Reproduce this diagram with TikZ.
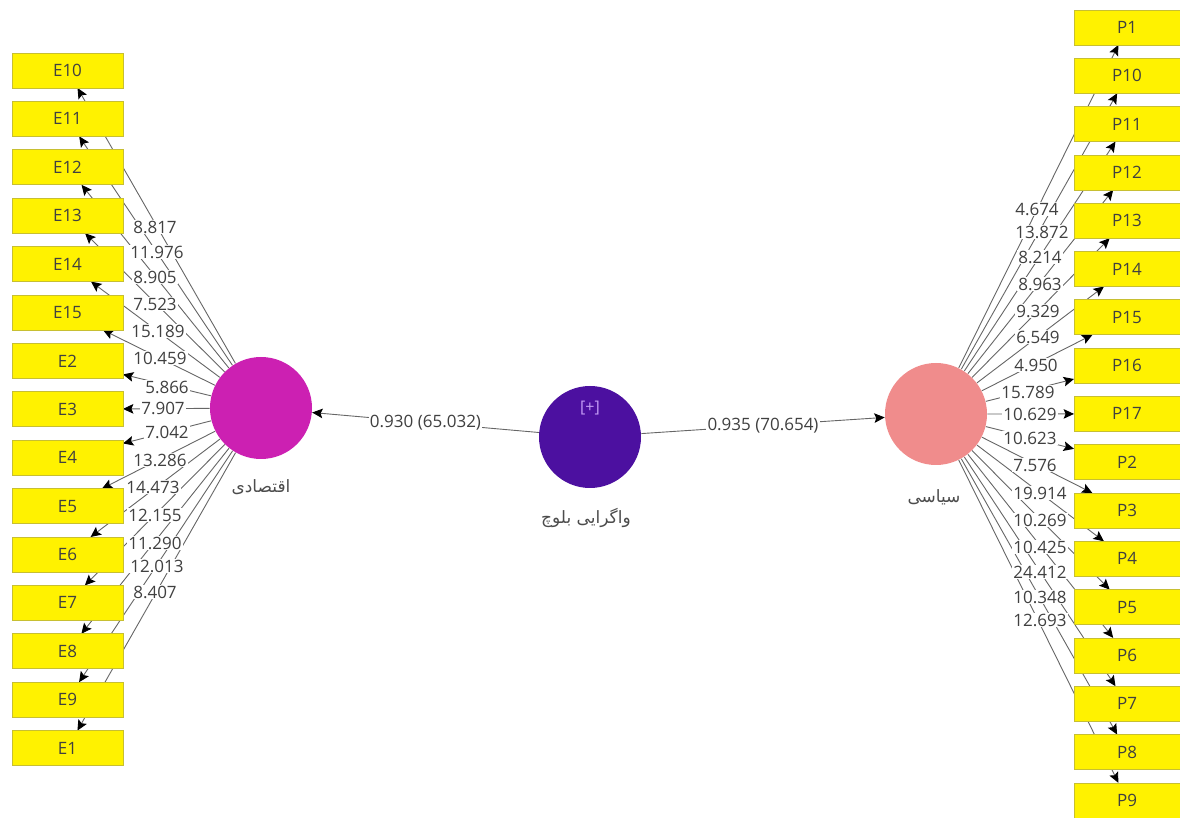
\documentclass[tikz,border=0pt]{standalone}
\usepackage{fontspec}
\setmainfont{Open Sans}
\newfontfamily\farsifont[Script=Arabic]{DejaVu Sans}
\TeXXeTstate=1
\usetikzlibrary{arrows.meta,backgrounds,positioning}
\definecolor{econcol}{RGB}{204,32,178}
\definecolor{polcol}{RGB}{240,140,140}
\definecolor{blgcol}{RGB}{76,16,160}
\definecolor{pluscol}{RGB}{196,156,245}

\begin{document}
\begin{tikzpicture}[x=0.5pt,y=-0.5pt,node distance=6.7pt,
	lv/.style={circle,minimum size=51pt,inner sep=0pt},
	ind/.style={rectangle,fill=yellow,draw=yellow!75!black,line width=0.3pt,minimum height=17.5pt,inner sep=0pt,outer sep=0pt,text=black!75,font=\fontsize{8.5}{10}\selectfont},
	indl/.style={ind,minimum width=55.5pt},
	indr/.style={ind,minimum width=53pt},
	val/.style={fill=white,inner sep=0.6pt,text=black!75,font=\fontsize{8.5}{10}\selectfont},
	load/.style={draw=black!60,line width=0.45pt,-{Stealth[length=5.2pt,width=4.8pt,inset=1pt,color=black]}},
	fa/.style={text=black!70,font=\farsifont\fontsize{8.5}{10}\selectfont}]
	\useasboundingbox (0,0) rectangle (1180,818);
	% latent variables
	\node[lv,fill=econcol] (econ) at (261,408) {};
	\node[fa] (econ-t) at (261,487) {\beginR اقتصادی\endR};
	\node[lv,fill=blgcol] (blg) at (590,437) {};
	\node[text=pluscol,font=\fontsize{8}{9}\selectfont] (blg-plus) at (590,408) {[+]};
	\node[fa] (blg-t) at (586,518) {\beginR واگرایی بلوچ\endR};
	\node[lv,fill=polcol] (pol) at (936,414) {};
	\node[fa] (pol-t) at (934,497) {\beginR سیاسی\endR};
	% indicators, left
	\node[indl] (e10) at (67.5,70.5) {E10};
	\node[indl,below=of e10] (e11) {E11};
	\node[indl,below=of e11] (e12) {E12};
	\node[indl,below=of e12] (e13) {E13};
	\node[indl,below=of e13] (e14) {E14};
	\node[indl,below=of e14] (e15) {E15};
	\node[indl,below=of e15] (e2) {E2};
	\node[indl,below=of e2] (e3) {E3};
	\node[indl,below=of e3] (e4) {E4};
	\node[indl,below=of e4] (e5) {E5};
	\node[indl,below=of e5] (e6) {E6};
	\node[indl,below=of e6] (e7) {E7};
	\node[indl,below=of e7] (e8) {E8};
	\node[indl,below=of e8] (e9) {E9};
	\node[indl,below=of e9] (e1) {E1};
	% indicators, right
	\node[indr] (p1) at (1127,27.5) {P1};
	\node[indr,below=6.65pt of p1] (p10) {P10};
	\node[indr,below=6.65pt of p10] (p11) {P11};
	\node[indr,below=6.65pt of p11] (p12) {P12};
	\node[indr,below=6.65pt of p12] (p13) {P13};
	\node[indr,below=6.65pt of p13] (p14) {P14};
	\node[indr,below=6.65pt of p14] (p15) {P15};
	\node[indr,below=6.65pt of p15] (p16) {P16};
	\node[indr,below=6.65pt of p16] (p17) {P17};
	\node[indr,below=6.65pt of p17] (p2) {P2};
	\node[indr,below=6.65pt of p2] (p3) {P3};
	\node[indr,below=6.65pt of p3] (p4) {P4};
	\node[indr,below=6.65pt of p4] (p5) {P5};
	\node[indr,below=6.65pt of p5] (p6) {P6};
	\node[indr,below=6.65pt of p6] (p7) {P7};
	\node[indr,below=6.65pt of p7] (p8) {P8};
	\node[indr,below=6.65pt of p8] (p9) {P9};
	% loadings, left
	\node[val] (v-e10) at (155,227) {8.817};
	\node[val] (v-e11) at (157,252) {11.976};
	\node[val] (v-e12) at (155,277) {8.905};
	\node[val] (v-e13) at (155,304) {7.523};
	\node[val] (v-e14) at (158,331) {15.189};
	\node[val] (v-e15) at (160,358) {10.459};
	\node[val] (v-e2) at (167,387) {5.866};
	\node[val] (v-e3) at (163,408) {7.907};
	\node[val] (v-e4) at (167,432) {7.042};
	\node[val] (v-e5) at (160,460) {13.286};
	\node[val] (v-e6) at (153,487) {14.473};
	\node[val] (v-e7) at (155,515) {12.155};
	\node[val] (v-e8) at (155,543) {11.290};
	\node[val] (v-e9) at (157,566) {12.013};
	\node[val] (v-e1) at (155,592) {8.407};
	% loadings, right
	\node[val] (v-p1) at (1037,209) {4.674};
	\node[val] (v-p10) at (1042,232) {13.872};
	\node[val] (v-p11) at (1040,257) {8.214};
	\node[val] (v-p12) at (1040,284) {8.963};
	\node[val] (v-p13) at (1038,311) {9.329};
	\node[val] (v-p14) at (1038,337) {6.549};
	\node[val] (v-p15) at (1036,365) {4.950};
	\node[val] (v-p16) at (1028,392) {15.789};
	\node[val] (v-p17) at (1030,414) {10.629};
	\node[val] (v-p2) at (1030,438) {10.623};
	\node[val] (v-p3) at (1035,465) {7.576};
	\node[val] (v-p4) at (1040,493) {19.914};
	\node[val] (v-p5) at (1040,520) {10.269};
	\node[val] (v-p6) at (1040,547) {10.425};
	\node[val] (v-p7) at (1040,572) {24.412};
	\node[val] (v-p8) at (1040,597) {10.348};
	\node[val] (v-p9) at (1040,620) {12.693};
	\begin{pgfonlayer}{background}
	\draw [load] (blg) -- node[val]{0.930 (65.032)} (econ);
	\draw [load] (blg) -- node[val]{0.935 (70.654)} (pol);
	\draw [load] (econ) -- (e10);
	\draw [load] (econ) -- (e11);
	\draw [load] (econ) -- (e12);
	\draw [load] (econ) -- (e13);
	\draw [load] (econ) -- (e14);
	\draw [load] (econ) -- (e15);
	\draw [load] (econ) -- (e2);
	\draw [load] (econ) -- (e3);
	\draw [load] (econ) -- (e4);
	\draw [load] (econ) -- (e5);
	\draw [load] (econ) -- (e6);
	\draw [load] (econ) -- (e7);
	\draw [load] (econ) -- (e8);
	\draw [load] (econ) -- (e9);
	\draw [load] (econ) -- (e1);
	\draw [load] (pol) -- (p1);
	\draw [load] (pol) -- (p10);
	\draw [load] (pol) -- (p11);
	\draw [load] (pol) -- (p12);
	\draw [load] (pol) -- (p13);
	\draw [load] (pol) -- (p14);
	\draw [load] (pol) -- (p15);
	\draw [load] (pol) -- (p16);
	\draw [load] (pol) -- (p17);
	\draw [load] (pol) -- (p2);
	\draw [load] (pol) -- (p3);
	\draw [load] (pol) -- (p4);
	\draw [load] (pol) -- (p5);
	\draw [load] (pol) -- (p6);
	\draw [load] (pol) -- (p7);
	\draw [load] (pol) -- (p8);
	\draw [load] (pol) -- (p9);
	\end{pgfonlayer}
\end{tikzpicture}
\end{document}
